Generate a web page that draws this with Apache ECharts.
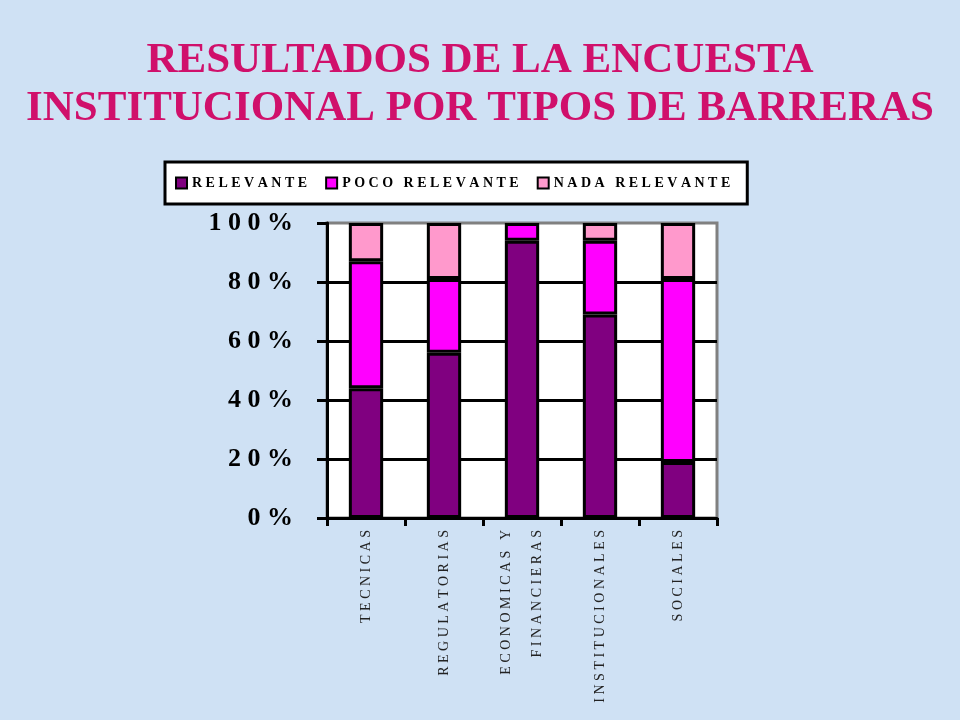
<!DOCTYPE html>
<html>
<head>
<meta charset="utf-8">
<script src="https://cdn.jsdelivr.net/npm/echarts@6/dist/echarts.min.js"></script>
<style>
html,body{margin:0;padding:0;background:#cfe1f4;}
#c{width:960px;height:720px;}
</style>
</head>
<body>
<div id="c"></div>
<script>
var titleLines = ['RESULTADOS DE LA ENCUESTA', 'INSTITUCIONAL POR TIPOS DE BARRERAS'];
var categories = ['TECNICAS', 'REGULATORIAS', 'ECONOMICAS Y\nFINANCIERAS', 'INSTITUCIONALES', 'SOCIALES'];
var seriesNames = ['RELEVANTE', 'POCO RELEVANTE', 'NADA RELEVANTE'];
var relevante = [44, 56, 94, 69, 19];
var pocoRelevante = [43, 25, 6, 25, 62];
var nadaRelevante = [13, 19, 0, 6, 19];
var yTicks = [0, 20, 40, 60, 80, 100];
var colors = ['#800080', '#ff00ff', '#ff99cc'];

function spaced(s) {
  return s.split('\n').map(function (l) { return l.split('').join(' '); }).join('\n');
}

var chart = echarts.init(document.getElementById('c'));
var values = [relevante, pocoRelevante, nadaRelevante];
chart.setOption({
  backgroundColor: 'transparent',
  animation: false,
  title: {
    text: titleLines.join('\n'),
    left: 'center',
    top: 32,
    textStyle: {
      fontFamily: 'Liberation Serif',
      fontWeight: 'bold',
      fontSize: 43,
      lineHeight: 48,
      color: '#d0106b'
    }
  },
  legend: {
    left: 165,
    top: 162,
    backgroundColor: '#ffffff',
    borderColor: '#000000',
    borderWidth: 3,
    borderRadius: 0,
    padding: [14, 17, 14, 10],
    itemGap: 18,
    itemWidth: 11,
    itemHeight: 11,
    icon: 'rect',
    itemStyle: { borderColor: '#000', borderWidth: 2 },
    formatter: function (n) { return spaced(n); },
    textStyle: {
      fontFamily: 'Liberation Serif',
      fontWeight: 'bold',
      fontSize: 14,
      color: '#000'
    },
    data: seriesNames
  },
  grid: {
    left: 327,
    right: 243,
    top: 223,
    bottom: 202,
    show: true,
    backgroundColor: '#ffffff',
    borderColor: '#808080',
    borderWidth: 3
  },
  xAxis: {
    type: 'category',
    data: categories,
    axisLine: { lineStyle: { color: '#000', width: 3 } },
    axisTick: { show: true, length: 8, lineStyle: { color: '#000', width: 3 } },
    axisLabel: {
      rotate: 90,
      margin: 12,
      interval: 0,
      fontFamily: 'Liberation Serif',
      fontSize: 14,
      lineHeight: 31,
      color: '#222',
      formatter: function (v) { return spaced(v); }
    }
  },
  yAxis: {
    type: 'value',
    min: 0,
    max: 100,
    interval: 20,
    axisLine: { show: true, lineStyle: { color: '#000', width: 3 } },
    axisTick: { show: true, length: 10, lineStyle: { color: '#000', width: 3 } },
    splitLine: { show: true, showMaxLine: false, lineStyle: { color: '#000', width: 3 } },
    axisLabel: {
      margin: 34,
      fontFamily: 'Liberation Serif',
      fontWeight: 'bold',
      fontSize: 26,
      color: '#000',
      formatter: function (v) { return spaced(String(v) + '%'); }
    }
  },
  series: seriesNames.map(function (name, i) {
    return {
      name: name,
      type: 'bar',
      stack: 'total',
      barWidth: '44%',
      data: values[i].map(function (v) { return v === 0 ? '-' : v; }),
      itemStyle: { color: colors[i], borderColor: '#000', borderWidth: 3 }
    };
  })
});
</script>
</body>
</html>
